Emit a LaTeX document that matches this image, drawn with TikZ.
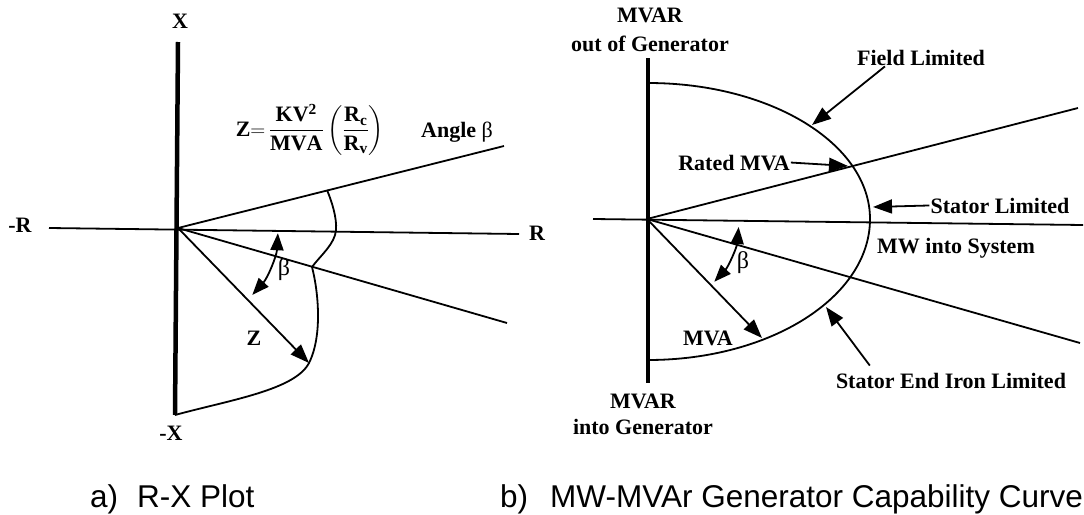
\documentclass[tikz,border=0pt]{standalone}
\usepackage{amsmath}
\usepackage{fontspec}
\setmainfont{Liberation Serif}
\newfontfamily\capfont{Liberation Sans}
\usepackage{tikz}
\usetikzlibrary{arrows.meta,positioning,calc}

\begin{document}
\begin{tikzpicture}[
    x=1pt, y=-1pt,
    lbl/.style={inner sep=1pt, font=\fontsize{22}{26}\selectfont\bfseries},
    greek/.style={inner sep=1pt, font=\fontsize{24}{26}\selectfont},
    subcap/.style={inner sep=0pt, anchor=base west, font=\fontsize{31.5}{36}\selectfont\capfont},
    axisline/.style={line width=4.5pt},
    ln/.style={line width=1.8pt},
    arr/.style={line width=1.8pt, -{Triangle[length=19pt,width=14pt]}},
    dblarr/.style={line width=1.8pt, {Triangle[length=17pt,width=13pt]}-{Triangle[length=17pt,width=13pt]}}
]
  \fill[white] (0,0) rectangle (1084,514);
  \useasboundingbox (0,0) rectangle (1084,514);

  % a) R-X plot
  \coordinate (O)     at (178,228);
  \coordinate (xtop)  at (178,42);
  \coordinate (xbot)  at (175,415);
  \coordinate (rleft) at (49,228);
  \coordinate (rrght) at (519,234);
  \coordinate (upA)   at (504,146);
  \coordinate (loA)   at (507,323);
  \coordinate (ztip)  at (309,363);

  \draw[axisline] (xtop) -- (xbot);
  \draw[ln] (rleft) -- (rrght);
  \draw[ln] (O) -- (upA);
  \draw[ln] (O) -- (loA);
  \draw[ln] (327,190) .. controls (332,202) and (337,218) .. (336,230)
                      .. controls (335,244) and (320,256) .. (312,267)
                      .. controls (318,290) and (323,335) .. (ztip)
                      .. controls (295,390) and (230,400) .. (xbot);
  \draw[arr] (O) -- (ztip);
  \draw[dblarr] ([shift={(-3:100pt)}]O) arc[start angle=-3, end angle=-42, radius=100pt];

  \node[lbl, anchor=base] (xlab)  at (180,28)  {X};
  \node[lbl, anchor=base] (mxlab) at (171,440) {-X};
  \node[lbl, anchor=base] (mrlab) at (20,232)  {-R};
  \node[lbl, anchor=base] (rlab)  at (537,240) {R};
  \node[lbl, anchor=base] (zlab)  at (254,345) {Z};
  \node[greek, anchor=base] (betaA) at (284,275) {β};
  \node[lbl] (zform) at (310,130)
    {$\mathbf{Z}{=}\,\dfrac{\mathbf{KV^2}}{\mathbf{MVA}}\left(\dfrac{\mathbf{R_c}}{\mathbf{R_v}}\right)$};
  \node[lbl, anchor=base] (angle) at (457,137) {Angle {\mdseries β}};

  % b) capability curve
  \coordinate (P)     at (647,219);
  \coordinate (qtop)  at (648,58);
  \coordinate (qbot)  at (648,383);
  \coordinate (pleft) at (593,219);
  \coordinate (prght) at (1083,225);
  \coordinate (upB)   at (1078,108);
  \coordinate (loB)   at (1080,343);
  \coordinate (fldtip) at (812,125);
  \coordinate (ratip)  at (848,166);
  \coordinate (sttip)  at (873,207);
  \coordinate (seitip) at (826,307);
  \coordinate (mvatip) at (762,338);

  \draw[axisline] (qtop) -- (qbot);
  \draw[ln] (pleft) -- (prght);
  \draw[ln] (P) -- (upB);
  \draw[ln] (P) -- (loB);
  \draw[ln] (648,83) arc[start angle=90, end angle=0, x radius=222pt, y radius=136pt]
                     arc[start angle=0, end angle=-90, x radius=222pt, y radius=141pt];
  \draw[arr] (P) -- (mvatip);
  \draw[dblarr] ([shift={(-5:92pt)}]P) arc[start angle=-5, end angle=-43, radius=92pt];

  \node[lbl, anchor=base] (mvarA)  at (650,23)  {MVAR};
  \node[lbl, anchor=base] (outgen) at (650,51)  {out of Generator};
  \node[lbl, anchor=base] (mvarB)  at (643,408) {MVAR};
  \node[lbl, anchor=base] (ingen)  at (643,434) {into Generator};
  \node[lbl, anchor=base] (field)  at (921,65)  {Field Limited};
  \node[lbl, anchor=base] (rated)  at (734,170) {Rated MVA};
  \node[lbl, anchor=base] (stator) at (1000,213) {Stator Limited};
  \node[lbl, anchor=base] (mwsys)  at (956,253) {MW into System};
  \node[lbl, anchor=base] (sei)    at (951,388) {Stator End Iron Limited};
  \node[lbl, anchor=base] (mva)    at (708,345) {MVA};
  \node[greek, anchor=base] (betaB) at (743,268) {β};

  \draw[arr] ([xshift=29pt]field.south west) -- (fldtip);
  \draw[arr] (rated.east) -- (ratip);
  \draw[arr] (stator.west) -- (sttip);
  \draw[arr] ([xshift=35pt,yshift=6pt]sei.north west) -- (seitip);

  % captions
  \node[subcap] (capa) at (90,507)  {a)\hspace{0.6em}R-X Plot};
  \node[subcap] (capb) at (500,507) {b)\hspace{0.7em}MW-MVAr Generator Capability Curve};
\end{tikzpicture}
\end{document}
